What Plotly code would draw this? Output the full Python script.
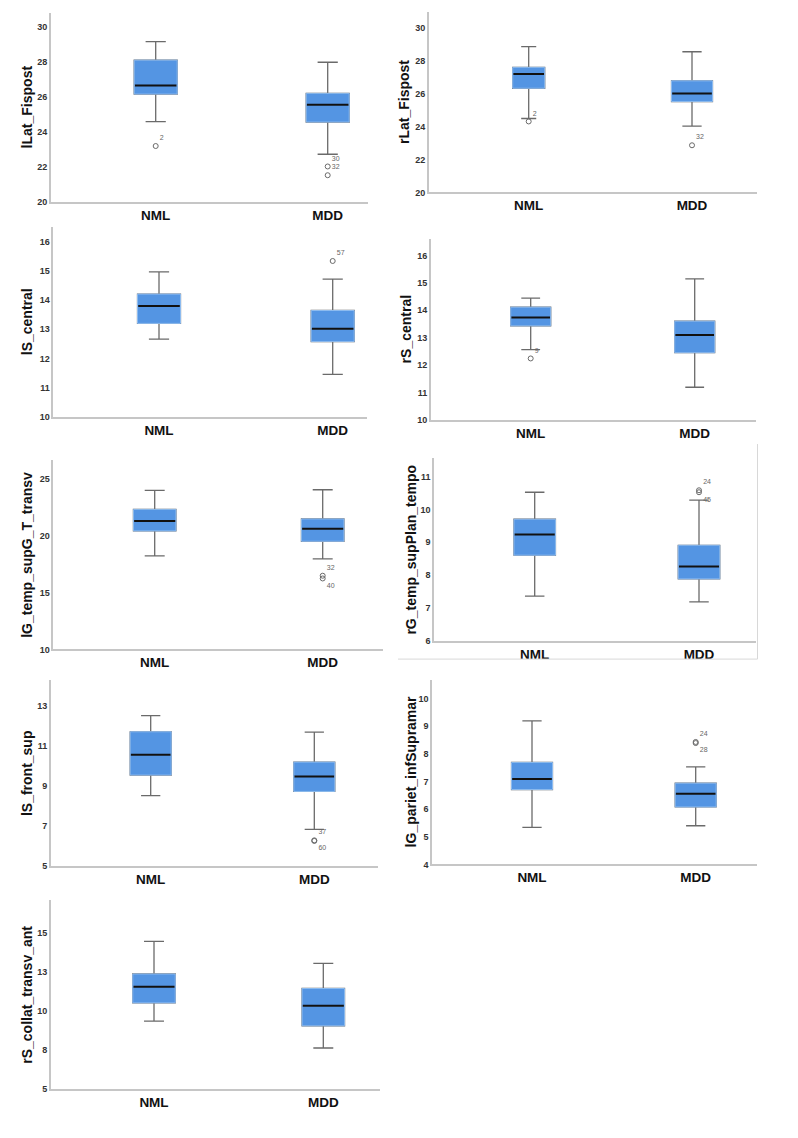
import plotly.graph_objects as go

# ---------------- data ----------------
categories = ["NML", "MDD"]
titles = ["lLat_Fispost", "rLat_Fispost", "lS_central", "rS_central",
          "lG_temp_supG_T_transv", "rG_temp_supPlan_tempo", "lS_front_sup",
          "lG_pariet_infSupramar", "rS_collat_transv_ant"]

nml_lower  = [24.58, 24.50, 12.66, 12.56, 18.23, 7.37, 8.52, 5.34, 9.36]
nml_q1     = [26.16, 26.34, 13.20, 13.43, 20.42, 8.61, 9.55, 6.71, 10.53]
nml_median = [26.65, 27.21, 13.79, 13.73, 21.29, 9.24, 10.57, 7.09, 11.57]
nml_q3     = [28.10, 27.61, 14.20, 14.11, 22.31, 9.70, 11.72, 7.69, 12.38]
nml_upper  = [29.16, 28.87, 14.96, 14.44, 23.98, 10.52, 12.53, 9.19, 14.47]

mdd_lower  = [22.72, 24.04, 11.46, 11.19, 17.97, 7.19, 6.83, 5.40, 7.64]
mdd_q1     = [24.56, 25.53, 12.58, 12.45, 19.51, 7.89, 8.73, 6.08, 9.06]
mdd_median = [25.55, 26.02, 13.02, 13.10, 20.62, 8.27, 9.48, 6.56, 10.34]
mdd_q3     = [26.20, 26.79, 13.64, 13.60, 21.47, 8.91, 10.20, 6.94, 11.45]
mdd_upper  = [27.98, 28.56, 14.71, 15.14, 24.04, 10.28, 11.70, 7.53, 13.06]

outlier_panel = [0, 0, 0, 1, 1, 2, 3, 4, 4, 5, 5, 6, 6, 7, 7]
outlier_group = [0, 1, 1, 0, 1, 1, 0, 1, 1, 1, 1, 1, 1, 1, 1]
outlier_value = [23.19, 22.02, 21.52, 24.32, 22.87, 15.33, 12.24, 16.48, 16.24,
                 10.58, 10.52, 6.28, 6.25, 8.43, 8.39]
outlier_label = ["2", "30", "32", "2", "32", "57", "9", "32", "40",
                 "24", "45", "37", "60", "24", "28"]
outlier_pos = ["top right", "top right", "top right", "top right", "top right",
               "top right", "top right", "top right", "bottom right",
               "top right", "bottom right", "top right", "bottom right",
               "top right", "bottom right"]

ytick_vals = [
    [20, 22, 24, 26, 28, 30],
    [20, 22, 24, 26, 28, 30],
    [10, 11, 12, 13, 14, 15, 16],
    [10, 11, 12, 13, 14, 15, 16],
    [10, 15, 20, 25],
    [6, 7, 8, 9, 10, 11],
    [5, 7, 9, 11, 13],
    [4, 5, 6, 7, 8, 9, 10],
    [5, 7.5, 10, 12.5, 15],
]
ytick_text = [
    ["20", "22", "24", "26", "28", "30"],
    ["20", "22", "24", "26", "28", "30"],
    ["10", "11", "12", "13", "14", "15", "16"],
    ["10", "11", "12", "13", "14", "15", "16"],
    ["10", "15", "20", "25"],
    ["6", "7", "8", "9", "10", "11"],
    ["5", "7", "9", "11", "13"],
    ["4", "5", "6", "7", "8", "9", "10"],
    ["5", "8", "10", "13", "15"],
]

# ---------------- layout (pixels) ----------------
W, H = 798, 1138
panels = [
    dict(x0=50.7, x1=367.7, yt=13.0, yb=202.7, ymin=20, ymax=30.8, c=(155.7, 327.7), bw=(43, 43), tx=27),
    dict(x0=428.7, x1=757.0, yt=11.7, yb=193.3, ymin=20, ymax=31.0, c=(528.7, 692.0), bw=(32, 41), tx=404),
    dict(x0=53.3, x1=366.7, yt=228.3, yb=419.0, ymin=10, ymax=16.48, c=(159.0, 332.7), bw=(43, 43), tx=27),
    dict(x0=430.7, x1=755.7, yt=240.0, yb=421.7, ymin=10, ymax=16.6, c=(530.7, 694.7), bw=(40, 40), tx=406),
    dict(x0=53.3, x1=383.0, yt=462.3, yb=652.3, ymin=10, ymax=26.63, c=(154.7, 322.7), bw=(42.5, 42.5), tx=27),
    dict(x0=434.0, x1=755.7, yt=460.0, yb=644.0, ymin=6, ymax=11.56, c=(534.7, 699.0), bw=(41.5, 41.5), tx=411),
    dict(x0=50.7, x1=377.7, yt=683.3, yb=869.7, ymin=5, ymax=14.3, c=(150.7, 314.3), bw=(41, 41), tx=27),
    dict(x0=432.0, x1=757.3, yt=683.3, yb=868.3, ymin=4, ymax=10.66, c=(532.0, 695.7), bw=(41, 41), tx=411),
    dict(x0=50.7, x1=380.0, yt=904.3, yb=1094.0, ymin=5, ymax=17.1, c=(154.0, 323.3), bw=(42.5, 42.5), tx=27),
]

FONT = "Arial, Liberation Sans, sans-serif"
BOX_FILL = "#5495E3"
BOX_EDGE = "#8DBBEF"
WHISKER = "#6a6a6a"
AXIS = "#c6c6c6"

fig = go.Figure()
annotations = []
layout_axes = {}

stats = {
    0: (nml_lower, nml_q1, nml_median, nml_q3, nml_upper),
    1: (mdd_lower, mdd_q1, mdd_median, mdd_q3, mdd_upper),
}

for i, p in enumerate(panels):
    xa = "x" if i == 0 else f"x{i+1}"
    ya = "y" if i == 0 else f"y{i+1}"
    span_px = p["x1"] - p["x0"]
    fa = (p["c"][0] - p["x0"]) / span_px
    fb = (p["c"][1] - p["x0"]) / span_px
    span = 1.0 / (fb - fa)
    xmin = -fa * span
    xmax = xmin + span

    for g in (0, 1):
        lo, q1, md, q3, up = (s[i] for s in stats[g])
        w = p["bw"][g] / span_px * span
        fig.add_trace(go.Box(
            x=[g], q1=[q1], median=[md], q3=[q3], lowerfence=[lo], upperfence=[up],
            width=w, whiskerwidth=0.47, fillcolor=BOX_FILL,
            line=dict(color=WHISKER, width=1.3), boxpoints=False,
            xaxis=xa, yaxis=ya, showlegend=False, hoverinfo="skip"))
        fig.add_trace(go.Box(
            x=[g], q1=[q1], median=[md], q3=[q3], lowerfence=[q1], upperfence=[q3],
            width=w, whiskerwidth=0, fillcolor=BOX_FILL,
            line=dict(color=BOX_EDGE, width=1), boxpoints=False,
            xaxis=xa, yaxis=ya, showlegend=False, hoverinfo="skip"))
        fig.add_trace(go.Scatter(
            x=[g - w / 2 + 0.004, g + w / 2 - 0.004], y=[md, md], mode="lines",
            line=dict(color="#111111", width=2), xaxis=xa, yaxis=ya,
            showlegend=False, hoverinfo="skip"))

    ox, oy, ot, op = [], [], [], []
    for k in range(len(outlier_panel)):
        if outlier_panel[k] == i:
            ox.append(outlier_group[k]); oy.append(outlier_value[k])
            ot.append(outlier_label[k]); op.append(outlier_pos[k])
    if ox:
        fig.add_trace(go.Scatter(
            x=ox, y=oy, text=ot, textposition=op, mode="markers+text",
            marker=dict(symbol="circle-open", size=5, color="#6a6a6a", line=dict(width=1)),
            textfont=dict(size=7, color="#666666", family=FONT),
            xaxis=xa, yaxis=ya, showlegend=False, hoverinfo="skip"))

    xkey = "xaxis" if i == 0 else f"xaxis{i+1}"
    ykey = "yaxis" if i == 0 else f"yaxis{i+1}"
    layout_axes[xkey] = dict(
        domain=[p["x0"] / W, p["x1"] / W], anchor=ya, range=[xmin, xmax],
        tickvals=[0, 1], ticktext=categories, ticks="", showgrid=False, zeroline=False,
        showline=True, linecolor=AXIS, linewidth=1.5,
        tickfont=dict(family=FONT, size=13.5, color="#111111", weight="bold"))
    layout_axes[ykey] = dict(
        domain=[1 - p["yb"] / H, 1 - p["yt"] / H], anchor=xa, range=[p["ymin"], p["ymax"]],
        tickvals=ytick_vals[i], ticktext=ytick_text[i], ticks="", showgrid=False,
        zeroline=False, showline=True, linecolor=AXIS, linewidth=1.5,
        tickfont=dict(family=FONT, size=9, color="#333333", weight="bold"))
    annotations.append(dict(
        text=titles[i], x=p["tx"] / W, y=1 - (p["yt"] + p["yb"]) / 2 / H,
        xref="paper", yref="paper", textangle=-90, showarrow=False,
        xanchor="center", yanchor="middle",
        font=dict(family=FONT, size=14, color="#111111", weight="bold")))

shapes = [
    dict(type="line", xref="paper", yref="paper", x0=757.5 / W, x1=757.5 / W,
         y0=1 - 662 / H, y1=1 - 446 / H, line=dict(color="#d8d8d8", width=1)),
    dict(type="line", xref="paper", yref="paper", x0=398 / W, x1=757.5 / W,
         y0=1 - 662 / H, y1=1 - 662 / H, line=dict(color="#d8d8d8", width=1)),
]

fig.update_layout(
    width=W, height=H, margin=dict(l=0, r=0, t=0, b=0),
    paper_bgcolor="white", plot_bgcolor="white", boxmode="overlay",
    annotations=annotations, shapes=shapes, **layout_axes)

fig.write_html("out.html", config={"displayModeBar": False},
               post_script="document.body.style.margin='0';")
